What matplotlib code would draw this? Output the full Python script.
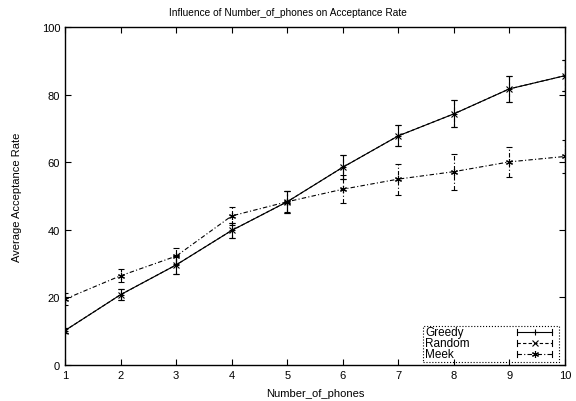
import matplotlib
matplotlib.use('Agg')
import matplotlib.pyplot as plt
from matplotlib.lines import Line2D
from matplotlib.patches import Rectangle

plt.rcParams['font.family'] = ['Liberation Sans', 'DejaVu Sans']

phones = [1, 2, 3, 4, 5, 6, 7, 8, 9, 10]

greedy = [10.2, 20.8, 29.6, 39.8, 48.3, 58.5, 67.8, 74.3, 81.7, 85.6]
greedy_err = [0.8, 1.6, 2.6, 2.2, 3.2, 3.6, 3.1, 4.0, 3.9, 4.6]

random_ = [10.2, 20.8, 29.6, 39.8, 48.3, 58.5, 67.8, 74.3, 81.7, 85.6]
random_err = [0.8, 1.6, 2.6, 2.2, 3.2, 3.6, 3.1, 4.0, 3.9, 4.6]

meek = [19.5, 26.4, 32.2, 44.1, 48.3, 52.0, 55.0, 57.2, 60.1, 61.7]
meek_err = [1.8, 1.9, 2.4, 2.7, 3.1, 4.1, 4.6, 5.3, 4.4, 5.0]

names = ['Greedy', 'Random', 'Meek']
styles = ['-', (0, (3, 2)), (0, (4, 2, 1, 2))]
markers = ['+', 'x', (6, 2, 0)]

W, H = 576, 402
fig = plt.figure(figsize=(W / 100, H / 100), dpi=100)
ax = fig.add_axes([65 / W, 1 - 366 / H, 500 / W, 338 / H])

series = [(greedy, greedy_err), (random_, random_err), (meek, meek_err)]
for (vals, errs), ls, mk in zip(series, styles, markers):
    eb = ax.errorbar(phones, vals, yerr=errs, color='black', lw=0.8,
                     ls=ls, marker=mk, ms=5, mew=0.8, capsize=2,
                     elinewidth=0.8, capthick=0.8)
    eb[2][0].set_linestyle(ls)

ax.set_xlim(1, 10)
ax.set_ylim(0, 100)
ax.set_xticks(phones)
ax.set_yticks([0, 20, 40, 60, 80, 100])
ax.tick_params(direction='in', top=True, right=True, labelsize=8, length=4)
for s in ax.spines.values():
    s.set_linewidth(1.0)
ax.set_xlabel('Number_of_phones', fontsize=8, labelpad=6)
ax.set_ylabel('Average Acceptance Rate', fontsize=8, labelpad=14)
fig.text(288 / W, 1 - 13 / H, 'Influence of Number_of_phones on Acceptance Rate',
         fontsize=7.3, ha='center', va='center')

# gnuplot style key in the lower right corner
tf = fig.transFigure
fig.patches.append(Rectangle((423 / W, 1 - 363 / H), 136 / W, 36 / H,
                             transform=tf, fill=False, ec='black', lw=0.8,
                             ls=':'))
rows = [333, 344, 355]
for name, ls, mk, y in zip(names, styles, markers, rows):
    yf = 1 - y / H
    fig.text(425 / W, yf, name, fontsize=8.5, ha='left', va='center')
    fig.lines.append(Line2D([517 / W, 552 / W], [yf, yf], transform=tf,
                            color='black', lw=0.8, ls=ls))
    for xe in (517, 552):
        fig.lines.append(Line2D([xe / W, xe / W], [yf - 3 / H, yf + 3 / H],
                                transform=tf, color='black', lw=0.8))
    fig.lines.append(Line2D([535 / W], [yf], transform=tf, color='black',
                            marker=mk, ms=5, mew=0.8))

fig.savefig('out.png', dpi=100)
